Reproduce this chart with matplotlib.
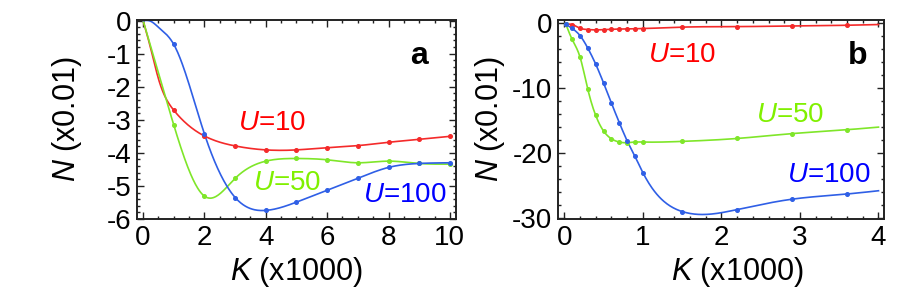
import matplotlib.pyplot as plt
import numpy as np
from matplotlib.ticker import MultipleLocator

plt.rcParams["font.family"] = ["Liberation Sans", "DejaVu Sans"]
plt.rcParams["mathtext.fontset"] = "custom"
plt.rcParams["mathtext.rm"] = "Liberation Sans"
plt.rcParams["mathtext.it"] = "Liberation Sans:italic"
plt.rcParams["axes.unicode_minus"] = False

RED = "#f42a2a"
GREEN = "#7fe629"
BLUE = "#2f5fe6"
TXT_RED = "#ff0000"
TXT_GREEN = "#80f000"
TXT_BLUE = "#0000ff"
FONT_SIZE = 20
LABEL_SIZE = 22

# Panel a: K (x1000) vs N (x0.01); markers at integer K
A_MARK_K = [1, 2, 3, 4, 5, 6, 7, 8, 9, 10]
A_U10_K = [0, 0.25, 0.5, 1, 2, 3, 4, 5, 6, 7, 8, 9, 10]
A_U10_N = [0, -0.85, -1.76, -2.71, -3.49, -3.79, -3.91, -3.91, -3.84, -3.78, -3.68, -3.59, -3.50]
A_U50_K = [0, 0.5, 1, 2, 2.2, 3, 4, 5, 6, 7, 8, 9, 10]
A_U50_N = [0, -1.58, -3.16, -5.31, -5.37, -4.77, -4.25, -4.17, -4.21, -4.30, -4.25, -4.32, -4.34]
A_U100_K = [0, 0.25, 0.5, 1, 2, 3, 4, 5, 6, 7, 8, 9, 10]
A_U100_N = [0, -0.02, -0.2, -0.72, -3.43, -5.35, -5.74, -5.49, -5.13, -4.77, -4.44, -4.32, -4.30]

# Panel b
B_K = [0.02, 0.1, 0.2, 0.3, 0.4, 0.5, 0.6, 0.7, 0.8, 0.9, 1.0, 1.5, 2.2, 2.9, 3.6, 4.0]
B_MARK_K = [0.02, 0.1, 0.2, 0.3, 0.4, 0.5, 0.6, 0.7, 0.8, 0.9, 1.0, 1.5, 2.2, 2.9, 3.6]
B_U10_N = [-0.15, -0.2, -0.77, -0.97, -1.03, -0.97, -0.92, -0.9, -0.88, -0.85, -0.82,
           -0.6, -0.52, -0.42, -0.31, -0.2]
B_U50_N = [-0.15, -2.5, -5.2, -10.2, -14.2, -16.6, -17.8, -18.3, -18.4, -18.3, -18.3,
           -18.2, -17.75, -17.0, -16.4, -16.0]
B_U100_N = [-0.15, -0.8, -1.9, -3.85, -6.3, -9.2, -12.3, -15.3, -18.1, -20.5, -23.0,
            -29.0, -28.7, -27.1, -26.3, -25.8]


def natural_spline(x, y, n=400):
    """Smooth curve through the points (natural cubic spline)."""
    x = np.asarray(x, float)
    y = np.asarray(y, float)
    m = len(x)
    h = np.diff(x)
    A = np.zeros((m, m))
    r = np.zeros(m)
    A[0, 0] = A[-1, -1] = 1
    for i in range(1, m - 1):
        A[i, i - 1] = h[i - 1]
        A[i, i] = 2 * (h[i - 1] + h[i])
        A[i, i + 1] = h[i]
        r[i] = 6 * ((y[i + 1] - y[i]) / h[i] - (y[i] - y[i - 1]) / h[i - 1])
    M = np.linalg.solve(A, r)
    xs = np.linspace(x[0], x[-1], n)
    idx = np.clip(np.searchsorted(x, xs) - 1, 0, m - 2)
    x0, x1 = x[idx], x[idx + 1]
    hh = x1 - x0
    a = (x1 - xs) / hh
    b = (xs - x0) / hh
    ys = (a * y[idx] + b * y[idx + 1]
          + ((a**3 - a) * M[idx] + (b**3 - b) * M[idx + 1]) * hh**2 / 6)
    return xs, ys


def draw_series(ax, k, n, mark_k, color):
    xs, ys = natural_spline(k, n)
    ax.plot(xs, ys, color=color, lw=1.2, zorder=2)
    mk = [kk for kk in k if kk in mark_k]
    mn = [nn for kk, nn in zip(k, n) if kk in mark_k]
    ax.plot(mk, mn, "o", color=color, ms=2.6, zorder=3)


def style_axes(ax):
    ax.tick_params(which="both", direction="in", top=True, right=True,
                   labelsize=FONT_SIZE, width=1.0, color="#222222", pad=4)
    ax.tick_params(which="major", length=5)
    ax.tick_params(which="minor", length=2.5)
    for s in ax.spines.values():
        s.set_linewidth(1.4)
        s.set_color("#222222")


def set_labels(ax, xcoord, ycoord):
    ax.set_xlabel("$K$ (x1000)", fontsize=LABEL_SIZE)
    ax.set_ylabel("$N$ (x0.01)", fontsize=LABEL_SIZE)
    ax.xaxis.set_label_coords(xcoord, -0.266)
    ax.xaxis.label.set_va("center")
    ax.yaxis.set_label_coords(ycoord, 0.5)
    ax.yaxis.label.set_va("center")


fig = plt.figure(figsize=(9.06, 3.08), dpi=100)
ax_a = fig.add_axes([0.1512, 0.2890, 0.3521, 0.6461])
ax_b = fig.add_axes([0.6159, 0.2890, 0.3598, 0.6461])

# panel a
draw_series(ax_a, A_U10_K, A_U10_N, A_MARK_K, RED)
draw_series(ax_a, A_U50_K, A_U50_N, A_MARK_K, GREEN)
draw_series(ax_a, A_U100_K, A_U100_N, A_MARK_K, BLUE)
ax_a.set_xlim(-0.2, 10.2)
ax_a.set_ylim(-6.0, 0.02)
ax_a.xaxis.set_major_locator(MultipleLocator(2))
ax_a.xaxis.set_minor_locator(MultipleLocator(0.5))
ax_a.yaxis.set_major_locator(MultipleLocator(1))
ax_a.yaxis.set_minor_locator(MultipleLocator(0.2))
style_axes(ax_a)
ax_a.text(4.2, -3.1, "$U$=10", color=TXT_RED, fontsize=FONT_SIZE, ha="center", va="center")
ax_a.text(4.68, -4.9, "$U$=50", color=TXT_GREEN, fontsize=FONT_SIZE, ha="center", va="center")
ax_a.text(8.53, -5.28, "$U$=100", color=TXT_BLUE, fontsize=FONT_SIZE, ha="center", va="center")
ax_a.text(0.885, 0.82, "a", transform=ax_a.transAxes, fontsize=23, fontweight="bold",
          ha="center", va="center")
set_labels(ax_a, 0.5, -0.22)

# panel b
draw_series(ax_b, B_K, B_U10_N, B_MARK_K, RED)
draw_series(ax_b, B_K, B_U50_N, B_MARK_K, GREEN)
draw_series(ax_b, B_K, B_U100_N, B_MARK_K, BLUE)
ax_b.set_xlim(-0.08, 4.07)
ax_b.set_ylim(-30.15, 0.5)
ax_b.xaxis.set_major_locator(MultipleLocator(1))
ax_b.xaxis.set_minor_locator(MultipleLocator(0.2))
ax_b.yaxis.set_major_locator(MultipleLocator(10))
ax_b.yaxis.set_minor_locator(MultipleLocator(2))
style_axes(ax_b)
ax_b.text(1.5, -4.9, "$U$=10", color=TXT_RED, fontsize=FONT_SIZE, ha="center", va="center")
ax_b.text(2.88, -14.1, "$U$=50", color=TXT_GREEN, fontsize=FONT_SIZE, ha="center", va="center")
ax_b.text(3.37, -23.3, "$U$=100", color=TXT_BLUE, fontsize=FONT_SIZE, ha="center", va="center")
ax_b.text(0.92, 0.82, "b", transform=ax_b.transAxes, fontsize=23, fontweight="bold",
          ha="center", va="center")
set_labels(ax_b, 0.55, -0.21)

fig.savefig("out.png", dpi=100)
